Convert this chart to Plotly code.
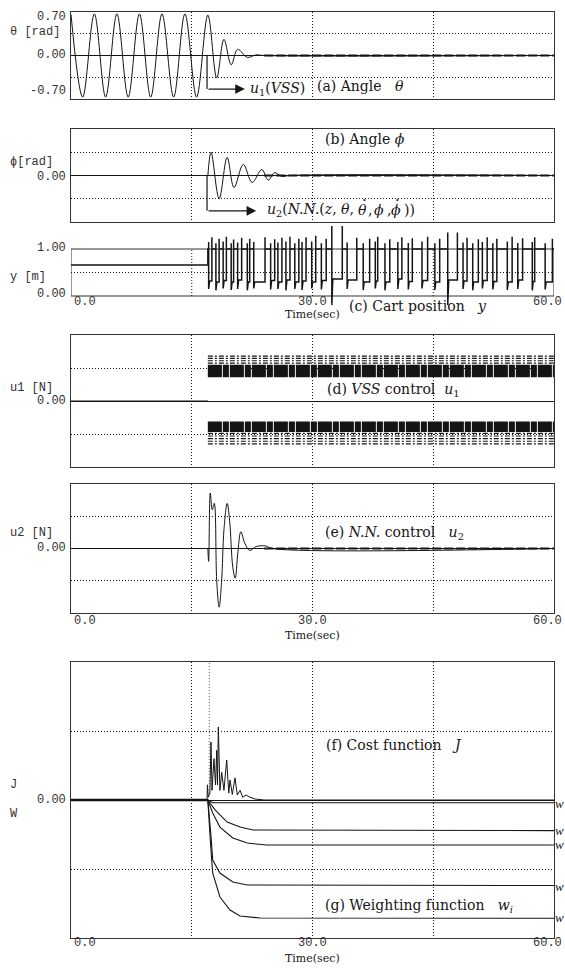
import plotly.graph_objects as go

# ---------------- data ----------------
# (a) pendulum angle theta [rad]: extrema of the oscillation
theta_t = [0, 1.45, 2.9, 4.3, 5.7, 7.1, 8.5, 9.9, 11.3, 12.75, 14.15, 15.6, 17.0,
           18.1, 19.0, 19.9, 20.7, 21.9, 23.0, 24.0, 60.0]
theta_v = [0.66, -0.67, 0.67, -0.67, 0.67, -0.67, 0.67, -0.67, 0.67, -0.67, 0.67, -0.67, 0.65,
           -0.36, 0.26, -0.15, 0.10, -0.03, 0.01, 0.0, 0.0]

# (b) angle phi (normalised units)
phi_rest_t = [0, 17.0]
phi_rest_v = [0, 0]
phi_t = [17.0, 17.4, 18.4, 19.4, 20.25, 21.4, 22.5, 23.7, 24.5, 25.3, 26.2, 27.2, 60.0]
phi_v = [0.0, 0.5, -0.5, 0.39, -0.26, 0.24, -0.15, 0.13, -0.10, 0.06, -0.02, 0.0, 0.0]

# (c) cart position y [m]: initial level and switching pulses
y_initial = 0.66
y_switch_on = 17.0
y_high = 1.0
y_pulse_start = [17.1, 18.0, 18.9, 19.9, 20.7, 21.9, 22.7, 24.8, 25.7, 26.7, 27.8, 28.7, 29.9, 31.1,
                 32.4, 34.3, 36.3, 37.8, 39.0, 40.6, 41.9, 43.6, 45.2, 46.8, 48.7, 49.9, 51.1, 52.4,
                 54.2, 55.5, 57.3, 58.9]
y_pulse_end = [17.5, 18.4, 19.3, 20.2, 21.2, 22.2, 24.1, 25.3, 26.2, 27.2, 28.3, 29.2, 30.4, 31.7,
               33.7, 35.5, 37.1, 38.1, 39.6, 41.1, 42.4, 44.3, 45.8, 48.0, 49.2, 50.6, 51.7, 52.9,
               54.8, 56.1, 57.6, 59.8]
y_pulse_low = [0.32, 0.30, 0.33, 0.30, 0.34, 0.30, 0.30, 0.33, 0.30, 0.34, 0.30, 0.32, 0.30, 0.33,
               0.36, 0.34, 0.30, 0.32, 0.30, 0.36, 0.31, 0.33, 0.30, 0.34, 0.32, 0.30, 0.33, 0.31,
               0.30, 0.34, 0.31, 0.30]
y_spike_low = [0.15, 0.12, 0.16, 0.13, 0.15, 0.12, 0.16, 0.14, 0.15, 0.12, 0.15, 0.13, 0.16, 0.14,
               -0.19, 0.15, 0.13, 0.16, 0.12, 0.15, 0.14, 0.16, 0.13, -0.19, 0.15, 0.12, 0.16, 0.14,
               0.13, 0.15, 0.12, 0.14]
y_spike_high = [1.25, 1.22, 1.26, 1.20, 1.24, 1.22, 1.25, 1.21, 1.24, 1.26, 1.22, 1.25, 1.28, 1.22,
                1.57, 1.24, 1.22, 1.26, 1.21, 1.25, 1.23, 1.26, 1.22, 1.35, 1.24, 1.21, 1.25, 1.22,
                1.26, 1.23, 1.25, 1.22]
y_spike_start = [1.15, 1.12, 1.16, 1.12, 1.14, 1.12, 1.15, 1.12, 1.14, 1.16, 1.12, 1.15, 1.16, 1.12,
                 1.57, 1.14, 1.12, 1.16, 1.12, 1.15, 1.13, 1.16, 1.12, 1.35, 1.14, 1.12, 1.15, 1.12,
                 1.16, 1.13, 1.15, 1.12]

# (d) VSS control u1: chattering levels (normalised)
u1_on_time = 17.0
u1_upper_dense = [0.53, 0.50, 0.47, 0.44, 0.41, 0.38]
u1_upper_sparse = [0.68, 0.645, 0.61, 0.575]
u1_lower_dense = [-0.33, -0.36, -0.39, -0.42, -0.45]
u1_lower_sparse = [-0.49, -0.53, -0.57, -0.61, -0.65]

# (e) N.N. control u2
u2_rest_t = [0, 17.0]
u2_rest_v = [0, 0]
u2_t = [17.0, 17.1, 17.3, 17.55, 17.8, 18.1, 18.4, 18.7, 19.0, 19.4, 19.7, 20.1, 20.4, 20.7,
        21.1, 21.6, 22.2, 23.0, 24.2, 25.0, 60.0]
u2_v = [0.0, -0.2, 0.86, 0.6, 0.7, -0.5, -0.91, -0.53, 0.29, 0.7, 0.44, -0.29, -0.46, -0.1,
        0.26, 0.08, -0.03, 0.03, 0.04, 0.0, 0.0]

# (f) cost function J
J_t = [0, 16.9, 16.95, 17.05, 17.25, 17.39, 17.52, 17.76, 17.95, 18.1, 18.2, 18.3, 18.5,
       18.72, 19.0, 19.34, 19.6, 19.75, 20.04, 20.37, 20.66, 21.0, 21.33, 21.74, 22.24, 22.86,
       24.0, 60.0]
J_v = [0, 0.0, 0.11, 0.02, 0.05, 0.42, 0.07, 0.30, 0.11, 0.36, 0.11, 0.53, 0.07,
       0.20, 0.07, 0.29, 0.05, 0.145, 0.04, 0.16, 0.036, 0.07, 0.02, 0.036, 0.02, 0.007,
       0.0, 0.0]
J_peak_t = [17.18, 17.18]
J_peak_v = [0.05, 1.0]

# (g) weighting functions w_i
w1_t = [0, 17.0, 17.6, 60.0]
w1_v = [0, 0.0, -0.02, -0.02]
w2_t = [0, 17.0, 17.9, 19.4, 21.0, 22.6, 60.0]
w2_v = [0, 0.0, -0.072, -0.16, -0.196, -0.217, -0.222]
w3_t = [0, 17.0, 17.6, 18.5, 20.1, 21.9, 24.3, 60.0]
w3_v = [0, 0.0, -0.094, -0.196, -0.275, -0.312, -0.326, -0.326]
w4_t = [0, 17.0, 17.4, 17.6, 18.5, 20.1, 21.9, 60.0]
w4_v = [0, 0.0, -0.268, -0.435, -0.529, -0.594, -0.616, -0.62]
w5_t = [0, 17.0, 17.3, 17.6, 18.5, 19.75, 21.0, 23.5, 60.0]
w5_v = [0, 0.0, -0.29, -0.529, -0.703, -0.797, -0.841, -0.855, -0.857]

settle_t = [24.0, 60.0]
settle_v = [0.0, 0.0]

x_grid = [15, 30, 45]

# ---------------- layout helpers ----------------
W, H = 565, 970
X0, X1 = 71, 554


def pxx(x):
    return x / W


def pxy(y):
    return 1 - y / H


INK = "#151515"
MONO = "Liberation Mono, DejaVu Sans Mono, monospace"
SERIF = "DejaVu Serif, Liberation Serif, serif"
TIMES = "Liberation Serif, serif"

# panel: (top px, bottom px, y-range, y grid values, show frame)
panels = [
    (12, 99, [-0.7, 0.7], [-0.35, 0.35], True),
    (129, 222, [-1, 1], [-0.5, 0.5], True),
    (226, 308, [-(308 - 296) / 47, 1 + (249 - 226) / 47], [0.5], False),
    (335, 467, [-1, 1], [-0.5, 0.5], True),
    (484, 613, [-1, 1], [-0.5, 0.5], True),
    (662, 938, [-1, 1], [-0.5, 0.5], True),
]

fig = go.Figure()
layout = dict(width=W, height=H, margin=dict(l=0, r=0, t=0, b=0),
              paper_bgcolor="white", plot_bgcolor="white", showlegend=False)
shapes = []
annotations = []

for i, (top, bot, yr, yg, frame) in enumerate(panels):
    k = "" if i == 0 else str(i + 1)
    layout["xaxis" + k] = dict(
        domain=[pxx(X0), pxx(X1)], range=[0, 60], anchor="y" + k,
        tickvals=x_grid, showticklabels=False, ticks="",
        showgrid=frame, gridcolor=INK, gridwidth=1, griddash="1px,2px",
        zeroline=False, showline=frame, mirror=True, linecolor="#333", linewidth=1,
        fixedrange=True)
    layout["yaxis" + k] = dict(
        domain=[pxy(bot), pxy(top)], range=yr, anchor="x" + k,
        tickvals=yg, showticklabels=False, ticks="",
        showgrid=True, gridcolor=INK, gridwidth=1, griddash="1px,2px",
        zeroline=frame, zerolinecolor=INK, zerolinewidth=1,
        showline=frame, mirror=True, linecolor="#333", linewidth=1,
        fixedrange=True)

# frame and vertical grid for panel (c) limited to 0..1
shapes.append(dict(type="rect", xref="x3", yref="y3", x0=0, x1=60, y0=0, y1=1,
                   line=dict(color="#333", width=1), layer="below"))
for g in x_grid:
    shapes.append(dict(type="line", xref="x3", yref="y3", x0=g, x1=g, y0=0, y1=1,
                       line=dict(color=INK, width=1, dash="1px,2px"), layer="below"))


def line(x, y, ax, width=1.0, shape="linear", dash="solid", color=INK):
    k = "" if ax == 1 else str(ax)
    fig.add_trace(go.Scatter(x=x, y=y, xaxis="x" + k, yaxis="y" + k, mode="lines",
                             line=dict(color=color, width=width, shape=shape, dash=dash),
                             hoverinfo="skip"))


# (a)
line(theta_t, theta_v, 1, 1.0, "spline")
line(settle_t, settle_v, 1, 2.0, dash="9px,3px")
# (b)
line(phi_rest_t, phi_rest_v, 2, 1.0)
line(phi_t, phi_v, 2, 1.0, "spline")
line(settle_t, settle_v, 2, 2.0, dash="9px,3px")

# (c) build the switching path from the pulse lists
cx = [0, y_switch_on, y_switch_on]
cy = [y_initial, y_initial, y_high]
for s, e, lo, sl, sh, ss in zip(y_pulse_start, y_pulse_end, y_pulse_low, y_spike_low,
                                y_spike_high, y_spike_start):
    cx += [s, s, s, s + 0.12, e, e, e]
    cy += [y_high, ss, sl, lo, lo, sh, y_high]
cx.append(60)
cy.append(y_high)
line(cx, cy, 3, 1.5)

# (d)
line([0, u1_on_time], [0, 0], 4, 1.2)
for lv in u1_upper_dense + u1_lower_dense:
    line([u1_on_time, 60], [lv, lv], 4, 2.6, dash="14px,1px,6px,1px")
for lv in u1_upper_sparse + u1_lower_sparse:
    line([u1_on_time, 60], [lv, lv], 4, 1.2, dash="5px,2px,2px,2px")

# (e)
line(u2_rest_t, u2_rest_v, 5, 1.0)
line(u2_t, u2_v, 5, 1.0, "spline")
line(settle_t, settle_v, 5, 2.0, dash="9px,3px")

# (f)/(g)
for wt, wv in [(w1_t, w1_v), (w2_t, w2_v), (w3_t, w3_v), (w4_t, w4_v), (w5_t, w5_v)]:
    line(wt, wv, 6, 1.1)
line(J_t, J_v, 6, 1.0)
line(J_peak_t, J_peak_v, 6, 1.0, dash="1px,2px", color="#555")
line([0, 17.0], [0, 0], 6, 2.4)

# arrows in (a) and (b)
shapes.append(dict(type="line", xref="x", yref="y", x0=16.9, x1=16.9, y0=0, y1=-0.54,
                   line=dict(color=INK, width=1.2)))
annotations.append(dict(xref="x", yref="y", x=21.6, y=-0.54, ax=16.9, ay=-0.54,
                        axref="x", ayref="y", text="", showarrow=True, arrowhead=2,
                        arrowsize=1.6, arrowwidth=1.2, arrowcolor=INK))
shapes.append(dict(type="line", xref="x2", yref="y2", x0=16.9, x1=16.9, y0=0, y1=-0.76,
                   line=dict(color=INK, width=1.2)))
annotations.append(dict(xref="x2", yref="y2", x=23.0, y=-0.76, ax=16.9, ay=-0.76,
                        axref="x2", ayref="y2", text="", showarrow=True, arrowhead=2,
                        arrowsize=1.6, arrowwidth=1.2, arrowcolor=INK))


def txt(text, x, y, anchor="left", font=SERIF, size=14, color=INK):
    annotations.append(dict(xref="paper", yref="paper", x=pxx(x), y=pxy(y), text=text,
                            showarrow=False, xanchor=anchor, yanchor="middle",
                            font=dict(family=font, size=size, color=color)))


# y tick labels
for t, y in [("0.70", 17), ("0.00", 55), ("-0.70", 91), ("0.00", 177), ("1.00", 248),
             ("0.00", 294), ("0.00", 401), ("0.00", 548), ("0.00", 800)]:
    txt(t, 68, y, "right", MONO, 12, "#333")
# y axis titles
for t, y in [("θ [rad]", 32), ("ϕ[rad]", 162), ("y [m]", 277), ("u1 [N]", 388),
             ("u2 [N]", 533), ("J", 785), ("W", 814)]:
    txt(t, 8, y, "left", MONO, 12, "#333")
# x tick labels and titles
for yl, yt in [(302, 315), (621, 635), (943, 958)]:
    txt("0.0", 72, yl, "left", MONO, 12, "#333")
    txt("30.0", 296, yl, "left", MONO, 12, "#333")
    txt("60.0", 564, yl, "right", MONO, 12, "#333")
    txt("Time(sec)", 312, yt, "center", SERIF, 11)

SP = "\u00a0"
# panel captions
txt("<i>u</i><sub>1</sub>(<i>VSS</i>)", 248, 89)
txt("(a)" + SP + "Angle" + SP * 3 + "<i>θ</i>", 315, 86)
txt("(b)" + SP + "Angle" + SP + "<i>ϕ</i>", 323, 139)
# u2 argument list, pieced so that the time-derivative dots sit over their letters
txt("<i>u</i><sub>2</sub>(<i>N.N.</i>(<i>z</i>, <i>θ</i>,", 356, 210, "right")
txt("<i>θ</i>", 362, 210, "center")
txt("·", 364, 200, "center", SERIF, 15)
txt(",", 366, 210, "left")
txt("<i>ϕ</i>", 379, 210, "center")
txt(",", 385, 210, "left")
txt("<i>ϕ</i>", 396, 210, "center")
txt("·", 397, 200, "center", SERIF, 15)
txt("))", 402, 210, "left")
txt("(c)" + SP + "Cart position" + SP * 3 + "<i>y</i>", 347, 306)
txt("(d)" + SP + "<i>VSS</i>" + SP + "control" + SP * 2 + "<i>u</i><sub>1</sub>", 325, 390)
txt("(e)" + SP + "<i>N.N.</i>" + SP + "control" + SP * 3 + "<i>u</i><sub>2</sub>", 323, 533)
txt("(f)" + SP + "Cost function" + SP * 3 + "<i>J</i>", 324, 745)
txt("(g)" + SP + "Weighting function" + SP * 3 + "<i>w</i><sub><i>i</i></sub>", 323, 906)
for y in [803, 830, 844, 886, 917]:
    txt("<i>w</i>", 553, y, "left", TIMES, 13)

layout["shapes"] = shapes
layout["annotations"] = annotations
fig.update_layout(**layout)
fig.write_html("out.html", config={"displayModeBar": False},
               post_script="document.body.style.margin='0';")
